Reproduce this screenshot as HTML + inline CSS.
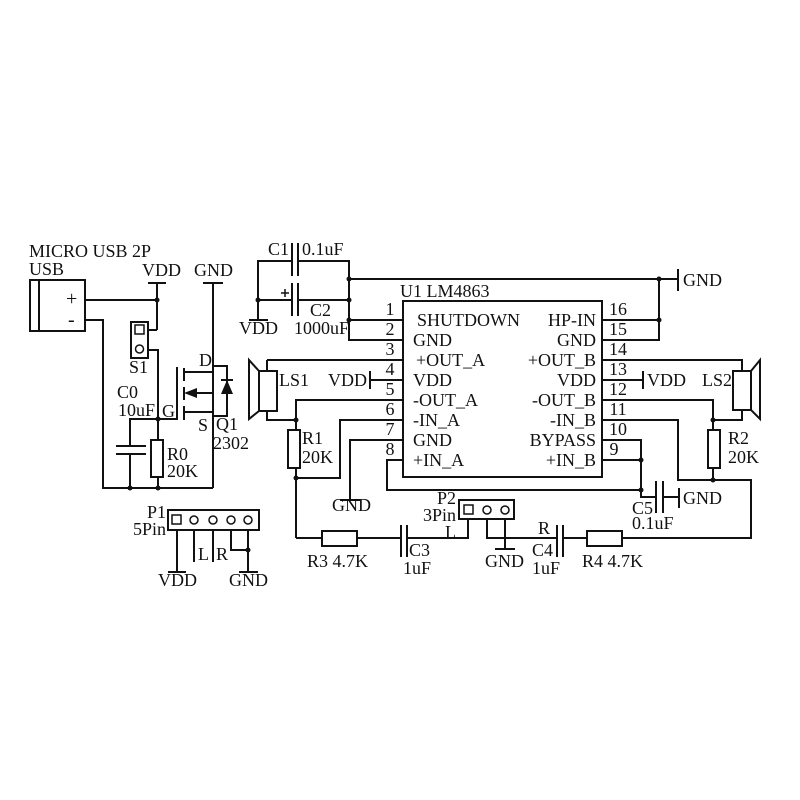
<!DOCTYPE html>
<html><head><meta charset="utf-8"><style>
html,body{margin:0;padding:0;background:#fff;}
svg{display:block;}
text{font-family:"Liberation Serif",serif;font-size:18px;fill:#111;}
</style></head><body>
<svg width="800" height="800" viewBox="0 0 800 800" xmlns="http://www.w3.org/2000/svg">
<g stroke="#111" stroke-width="2" fill="none">
<rect x="30" y="280" width="55" height="51"/>
<line x1="39" y1="280" x2="39" y2="331"/>
<polyline points="85,300 157,300"/>
<polyline points="85,320 103,320 103,488 213,488"/>
<line x1="148" y1="283" x2="166" y2="283"/>
<line x1="157" y1="283" x2="157" y2="330"/>
<polyline points="147,330 157,330"/>
<rect x="131" y="322" width="17" height="36"/>
<rect x="135" y="325" width="9" height="9" stroke-width="1.5"/>
<circle cx="139.5" cy="349" r="4" stroke-width="1.5"/>
<polyline points="148,350 158,350 158,488"/>
<polyline points="158,419 130,419 130,446"/>
<line x1="116" y1="446" x2="146" y2="446"/>
<line x1="116" y1="454" x2="146" y2="454"/>
<line x1="130" y1="454" x2="130" y2="488"/>
<rect x="151" y="440" width="12" height="37" fill="#fff"/>
<polyline points="158,419 177,419 177,367"/>
<line x1="184" y1="368" x2="184" y2="381"/>
<line x1="184" y1="387" x2="184" y2="400"/>
<line x1="184" y1="406" x2="184" y2="420"/>
<polyline points="184,372 213,372"/>
<polyline points="184,412 213,412"/>
<polyline points="197,393 213,393 213,412"/>
<line x1="203" y1="283" x2="223" y2="283"/>
<line x1="213" y1="283" x2="213" y2="488"/>
<polyline points="213,366 227,366 227,416 213,416"/>
<line x1="221" y1="380" x2="233" y2="380"/>
<polyline points="258,320 258,261 292,261"/>
<polyline points="298,261 349,261 349,340 403,340"/>
<line x1="292" y1="243" x2="292" y2="276"/>
<line x1="298" y1="243" x2="298" y2="276"/>
<polyline points="258,300 292,300"/>
<polyline points="298,300 349,300"/>
<line x1="292" y1="283" x2="292" y2="316"/>
<line x1="298" y1="283" x2="298" y2="316"/>
<line x1="281" y1="293" x2="289" y2="293" stroke-width="1.5"/>
<line x1="285" y1="289" x2="285" y2="297" stroke-width="1.5"/>
<line x1="249" y1="320" x2="268" y2="320"/>
<line x1="349" y1="279" x2="678" y2="279"/>
<line x1="678" y1="269" x2="678" y2="291"/>
<line x1="349" y1="320" x2="403" y2="320"/>
<rect x="403" y="301" width="199" height="176"/>
<line x1="267" y1="360" x2="403" y2="360"/>
<line x1="370" y1="380" x2="403" y2="380"/>
<line x1="370" y1="371" x2="370" y2="389"/>
<polyline points="403,400 296,400 296,430"/>
<polyline points="403,420 340,420 340,478 296,478"/>
<polyline points="403,440 350,440 350,500"/>
<line x1="340" y1="500" x2="360" y2="500"/>
<polyline points="403,460 387,460 387,490 641,490"/>
<line x1="267" y1="360" x2="267" y2="371"/>
<rect x="259" y="371" width="18" height="40"/>
<polygon points="259,371 249,360 249,419 259,411"/>
<polyline points="267,411 267,420 296,420"/>
<rect x="288" y="430" width="12" height="38" fill="#fff"/>
<line x1="296" y1="468" x2="296" y2="538"/>
<polyline points="296,538 322,538"/>
<rect x="322" y="531" width="35" height="15"/>
<polyline points="357,538 401,538"/>
<line x1="401" y1="525" x2="401" y2="557"/>
<line x1="407" y1="525" x2="407" y2="557"/>
<polyline points="407,538 468,538 468,519"/>
<rect x="459" y="500" width="55" height="19"/>
<rect x="464" y="505" width="9" height="9" stroke-width="1.5"/>
<circle cx="487" cy="510" r="4" stroke-width="1.5"/>
<circle cx="505" cy="510" r="4" stroke-width="1.5"/>
<polyline points="487,519 487,538 557,538"/>
<line x1="505" y1="519" x2="505" y2="549"/>
<line x1="495" y1="549" x2="515" y2="549"/>
<line x1="557" y1="525" x2="557" y2="557"/>
<line x1="563" y1="525" x2="563" y2="557"/>
<polyline points="563,538 587,538"/>
<rect x="587" y="531" width="35" height="15"/>
<polyline points="622,538 751,538 751,480 678,480 678,420 602,420"/>
<polyline points="602,320 659,320"/>
<polyline points="602,340 659,340 659,279"/>
<polyline points="602,360 742,360 742,371"/>
<line x1="602" y1="380" x2="643" y2="380"/>
<line x1="643" y1="371" x2="643" y2="389"/>
<polyline points="602,400 713,400 713,430"/>
<rect x="708" y="430" width="12" height="38" fill="#fff"/>
<line x1="713" y1="468" x2="713" y2="480"/>
<rect x="733" y="371" width="18" height="39"/>
<polygon points="751,371 760,360 760,419 751,410"/>
<polyline points="742,410 742,420 713,420"/>
<polyline points="602,440 641,440 641,497 656,497"/>
<line x1="602" y1="460" x2="641" y2="460"/>
<line x1="656" y1="481" x2="656" y2="513"/>
<line x1="663" y1="481" x2="663" y2="513"/>
<line x1="663" y1="497" x2="679" y2="497"/>
<line x1="679" y1="488" x2="679" y2="508"/>
<rect x="168" y="510" width="91" height="20"/>
<rect x="172" y="515" width="9" height="9" stroke-width="1.5"/>
<circle cx="194" cy="520" r="4" stroke-width="1.5"/>
<circle cx="213" cy="520" r="4" stroke-width="1.5"/>
<circle cx="231" cy="520" r="4" stroke-width="1.5"/>
<circle cx="248" cy="520" r="4" stroke-width="1.5"/>
<line x1="177" y1="530" x2="177" y2="572"/>
<line x1="168" y1="572" x2="186" y2="572"/>
<line x1="194" y1="530" x2="194" y2="562"/>
<line x1="213" y1="530" x2="213" y2="562"/>
<polyline points="231,530 231,550 248,550"/>
<line x1="248" y1="530" x2="248" y2="572"/>
<line x1="239" y1="572" x2="258" y2="572"/>
</g>
<g fill="#111">
<polygon points="184,393 197,388 197,398"/>
<polygon points="227,380 221,394 233,394"/>
<circle cx="157" cy="300" r="2.5"/><circle cx="158" cy="419" r="2.5"/>
<circle cx="130" cy="488" r="2.5"/><circle cx="158" cy="488" r="2.5"/>
<circle cx="258" cy="300" r="2.5"/>
<circle cx="349" cy="279" r="2.5"/><circle cx="349" cy="300" r="2.5"/><circle cx="349" cy="320" r="2.5"/>
<circle cx="659" cy="279" r="2.5"/><circle cx="659" cy="320" r="2.5"/>
<circle cx="296" cy="420" r="2.5"/><circle cx="296" cy="478" r="2.5"/>
<circle cx="713" cy="420" r="2.5"/><circle cx="713" cy="480" r="2.5"/>
<circle cx="641" cy="460" r="2.5"/><circle cx="641" cy="490" r="2.5"/>
<circle cx="248" cy="550" r="2.5"/>
</g>
<text x="29" y="257">MICRO USB 2P</text>
<text x="29" y="275">USB</text>
<text x="66" y="305" style="font-size:20px">+</text>
<text x="68" y="326" style="font-size:20px">-</text>
<text x="142" y="276">VDD</text>
<text x="194" y="276">GND</text>
<text x="129" y="373">S1</text>
<text x="117" y="398">C0</text>
<text x="118" y="416">10uF</text>
<text x="162" y="417">G</text>
<text x="199" y="366">D</text>
<text x="198" y="431">S</text>
<text x="216" y="430">Q1</text>
<text x="213" y="449">2302</text>
<text x="167" y="460">R0</text>
<text x="167" y="477">20K</text>
<text x="268" y="255">C1</text>
<text x="302" y="255">0.1uF</text>
<text x="310" y="316">C2</text>
<text x="294" y="334">1000uF</text>
<text x="239" y="334">VDD</text>
<text x="400" y="297">U1  LM4863</text>
<text x="417" y="326">SHUTDOWN</text>
<text x="413" y="346">GND</text>
<text x="416" y="366">+OUT_A</text>
<text x="413" y="386">VDD</text>
<text x="413" y="406">-OUT_A</text>
<text x="413" y="426">-IN_A</text>
<text x="413" y="446">GND</text>
<text x="413" y="466">+IN_A</text>
<g text-anchor="end">
<text x="596" y="326">HP-IN</text>
<text x="596" y="346">GND</text>
<text x="596" y="366">+OUT_B</text>
<text x="596" y="386">VDD</text>
<text x="596" y="406">-OUT_B</text>
<text x="596" y="426">-IN_B</text>
<text x="596" y="446">BYPASS</text>
<text x="596" y="466">+IN_B</text>
<text x="732" y="386">LS2</text>
<text x="456" y="504">P2</text>
<text x="456" y="521">3Pin</text>
<text x="166" y="518">P1</text>
<text x="166" y="535">5Pin</text>
</g>
<g text-anchor="middle">
<text x="390" y="315">1</text><text x="390" y="335">2</text><text x="390" y="355">3</text><text x="390" y="375">4</text>
<text x="390" y="395">5</text><text x="390" y="415">6</text><text x="390" y="435">7</text><text x="390" y="455">8</text>
<text x="618" y="315">16</text><text x="618" y="335">15</text><text x="618" y="355">14</text><text x="618" y="375">13</text>
<text x="618" y="395">12</text><text x="618" y="415">11</text><text x="618" y="435">10</text><text x="614" y="455">9</text>
</g>
<text x="683" y="286">GND</text>
<text x="647" y="386">VDD</text>
<text x="328" y="386">VDD</text>
<text x="279" y="386">LS1</text>
<text x="302" y="444">R1</text>
<text x="302" y="463">20K</text>
<text x="728" y="444">R2</text>
<text x="728" y="463">20K</text>
<text x="332" y="511">GND</text>
<text x="683" y="504">GND</text>
<text x="632" y="514">C5</text>
<text x="632" y="529">0.1uF</text>
<text x="307" y="567">R3  4.7K</text>
<text x="409" y="556">C3</text>
<text x="403" y="574">1uF</text>
<text x="445" y="538">L</text>
<text x="538" y="534">R</text>
<text x="485" y="567">GND</text>
<text x="532" y="556">C4</text>
<text x="532" y="574">1uF</text>
<text x="582" y="567">R4  4.7K</text>
<text x="198" y="560">L</text>
<text x="216" y="560">R</text>
<text x="158" y="586">VDD</text>
<text x="229" y="586">GND</text>
</svg>
</body></html>
